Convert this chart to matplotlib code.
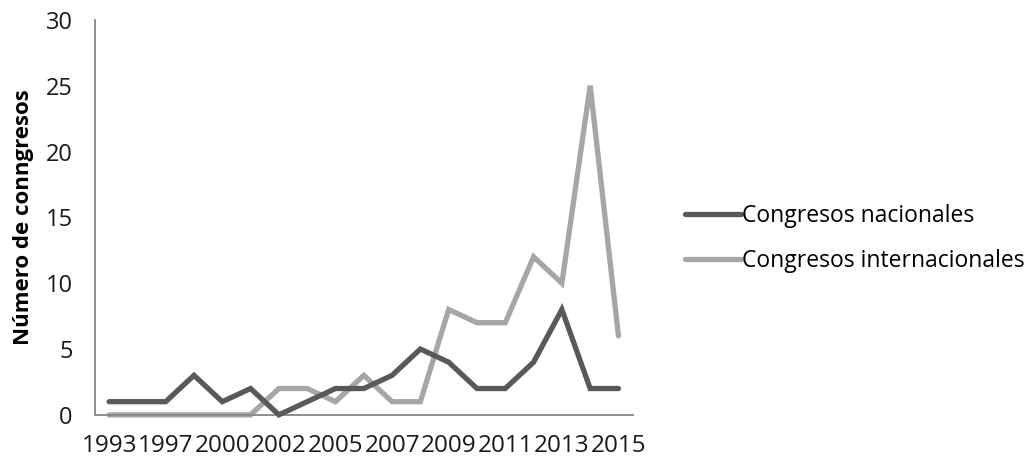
import matplotlib
matplotlib.use("Agg")
import matplotlib.pyplot as plt

years = [1993, 1995, 1997, 1999, 2000, 2001, 2002, 2004, 2005, 2006,
         2007, 2008, 2009, 2010, 2011, 2012, 2013, 2014, 2015]
nacionales = [1, 1, 1, 3, 1, 2, 0, 1, 2, 2, 3, 5, 4, 2, 2, 4, 8, 2, 2]
internacionales = [0, 0, 0, 0, 0, 0, 2, 2, 1, 3, 1, 1, 8, 7, 7, 12, 10, 25, 6]

plt.rcParams['font.family'] = ['Open Sans', 'DejaVu Sans']

fig = plt.figure(figsize=(10.32, 4.63), dpi=100)
ax = fig.add_axes([0.092, 0.104, 0.521, 0.853])

x = list(range(len(years)))
ax.plot(x, nacionales, color='#595959', lw=3.8, solid_capstyle='round',
        solid_joinstyle='miter', clip_on=False, label='Congresos nacionales', zorder=3)
ax.plot(x, internacionales, color='#a6a6a6', lw=3.8, solid_capstyle='round',
        solid_joinstyle='miter', clip_on=False, label='Congresos internacionales', zorder=2)

ax.set_xlim(-0.5, len(years) - 0.5)
ax.set_ylim(0, 30)
ax.set_yticks(range(0, 31, 5))
ax.set_xticks(x[::2])
ax.set_xticklabels([str(y) for y in years[::2]])
ax.tick_params(axis='y', length=0, pad=16, labelsize=17, labelcolor='#1a1a1a')
ax.tick_params(axis='x', length=0, pad=14, labelsize=17.5, labelcolor='#1a1a1a')

for s in ['top', 'right']:
    ax.spines[s].set_visible(False)
for s in ['left', 'bottom']:
    ax.spines[s].set_color('#868686')
    ax.spines[s].set_linewidth(1.3)

ax.set_ylabel('Número de conngresos', fontsize=16, fontweight='bold', labelpad=8)

ax.legend(loc='center left', bbox_to_anchor=(0.655, 0.485), bbox_transform=fig.transFigure,
          frameon=False, fontsize=16.5, handlelength=2.45, handletextpad=0.05,
          labelspacing=0.95, borderaxespad=0)

fig.savefig('out.png', dpi=100)
